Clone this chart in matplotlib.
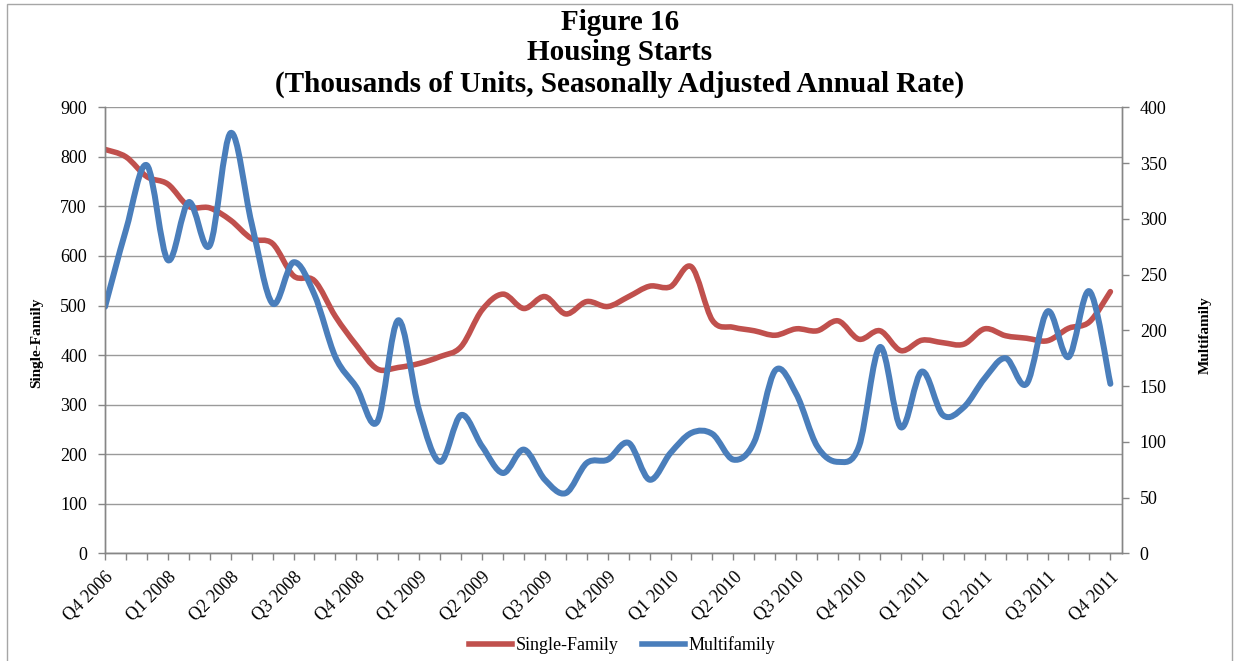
import numpy as np
import matplotlib
matplotlib.use("Agg")
import matplotlib.pyplot as plt
from matplotlib.path import Path
from matplotlib.patches import PathPatch, Rectangle
from matplotlib.lines import Line2D

# monthly values
single_family = [815, 800, 760, 745, 700, 697, 672, 635, 625, 560,
                 550, 478, 420, 372, 375, 383, 397, 417, 491, 523,
                 494, 518, 483, 508, 498, 518, 539, 538, 578, 470,
                 456, 449, 440, 453, 449, 469, 432, 449, 409, 430,
                 425, 422, 453, 439, 434, 429, 454, 467, 528]
multifamily = [221, 290, 348, 263, 315, 276, 377, 296, 224, 261,
               232, 176, 149, 118, 209, 128, 82, 124, 96, 72,
               93, 66, 54, 81, 84, 99, 66, 90, 108, 107,
               84, 100, 164, 143, 96, 82, 96, 185, 113, 163,
               124, 131, 157, 175, 152, 217, 176, 235, 152]
quarter_labels = ["Q4 2006", "Q1 2008", "Q2 2008", "Q3 2008", "Q4 2008",
                  "Q1 2009", "Q2 2009", "Q3 2009", "Q4 2009", "Q1 2010",
                  "Q2 2010", "Q3 2010", "Q4 2010", "Q1 2011", "Q2 2011",
                  "Q3 2011", "Q4 2011"]

RED = "#C0504D"
BLUE = "#4A7EBB"
GRID = "#9A9A9A"
SERIF = ["Liberation Serif", "DejaVu Serif"]


def smooth_path(xs, ys):
    # excel-like smoothed line: bezier segments through every point
    pts = np.column_stack([xs, ys]).astype(float)
    n = len(pts)
    verts = [pts[0]]
    codes = [Path.MOVETO]
    for i in range(n - 1):
        p0 = pts[max(i - 1, 0)]
        p1 = pts[i]
        p2 = pts[i + 1]
        p3 = pts[min(i + 2, n - 1)]
        c1 = p1 + (p2 - p0) / 6.0
        c2 = p2 - (p3 - p1) / 6.0
        verts += [c1, c2, p2]
        codes += [Path.CURVE4] * 3
    return Path(verts, codes)


fig = plt.figure(figsize=(12.36, 6.61), dpi=100)
ax = fig.add_axes([105 / 1236, 1 - 553.3 / 661, (1121.7 - 105) / 1236, (553.3 - 107.3) / 661])
ax2 = ax.twinx()

x = np.arange(len(single_family))
ax.add_patch(PathPatch(smooth_path(x, single_family), fill=False, ec=RED, lw=4,
                       capstyle="round", joinstyle="round"))
ax2.add_patch(PathPatch(smooth_path(x, multifamily), fill=False, ec=BLUE, lw=4.3,
                        capstyle="round", joinstyle="round"))

ax.set_xlim(0, 48.54)
ax.set_ylim(0, 900)
ax2.set_ylim(0, 400)
ax.set_yticks(np.arange(0, 901, 100))
ax2.set_yticks(np.arange(0, 401, 50))
ax.set_xticks(np.arange(0, 49, 3))
ax.set_xticks(x, minor=True)
ax.set_xticklabels(quarter_labels, rotation=45, ha="right", va="top",
                   rotation_mode="anchor", fontfamily=SERIF, fontsize=13)
for lab in ax.get_yticklabels() + ax2.get_yticklabels():
    lab.set_fontfamily(SERIF)
    lab.set_fontsize(13)

ax.grid(axis="y", color=GRID, lw=1)
ax.set_axisbelow(True)
for a in (ax, ax2):
    a.spines["top"].set_visible(False)
    for s in ("left", "right", "bottom"):
        a.spines[s].set_color("#868686")
        a.spines[s].set_linewidth(1)
ax.tick_params(axis="both", which="both", direction="out", length=5, color="#868686", width=1)
ax.tick_params(axis="x", which="major", pad=6)
ax.tick_params(axis="y", pad=8)
ax2.tick_params(axis="y", direction="out", length=5, color="#868686", width=1, pad=8)

# titles
title_kw = dict(ha="center", va="center", fontfamily=SERIF, fontweight="bold", fontsize=21)
fig.text(0.5016, 1 - 22 / 661, "Figure 16", **title_kw)
fig.text(0.5016, 1 - 53 / 661, "Housing Starts", **title_kw)
fig.text(0.5016, 1 - 84 / 661, "(Thousands of Units, Seasonally Adjusted Annual Rate)", **title_kw)

fig.text(37 / 1236, 1 - 343 / 661, "Single-Family", rotation=90, ha="center", va="center",
         fontfamily=SERIF, fontweight="bold", fontsize=11)
fig.text(1205 / 1236, 1 - 335 / 661, "Multifamily", rotation=90, ha="center", va="center",
         fontfamily=SERIF, fontweight="bold", fontsize=11)

handles = [Line2D([], [], color=RED, lw=4), Line2D([], [], color=BLUE, lw=4)]
fig.legend(handles, ["Single-Family", "Multifamily"], loc="center",
           bbox_to_anchor=(622 / 1236, 1 - 645 / 661), ncol=2, frameon=False,
           handlelength=2.4, handletextpad=0.2, columnspacing=1.3,
           prop={"family": SERIF, "size": 13})

fig.patches.append(Rectangle((7 / 1236, -0.1), (1232 - 7) / 1236, 1.1 - 4 / 661,
                             transform=fig.transFigure, fill=False, ec="#A6A6A6", lw=1))

fig.savefig("out.png", dpi=100)
